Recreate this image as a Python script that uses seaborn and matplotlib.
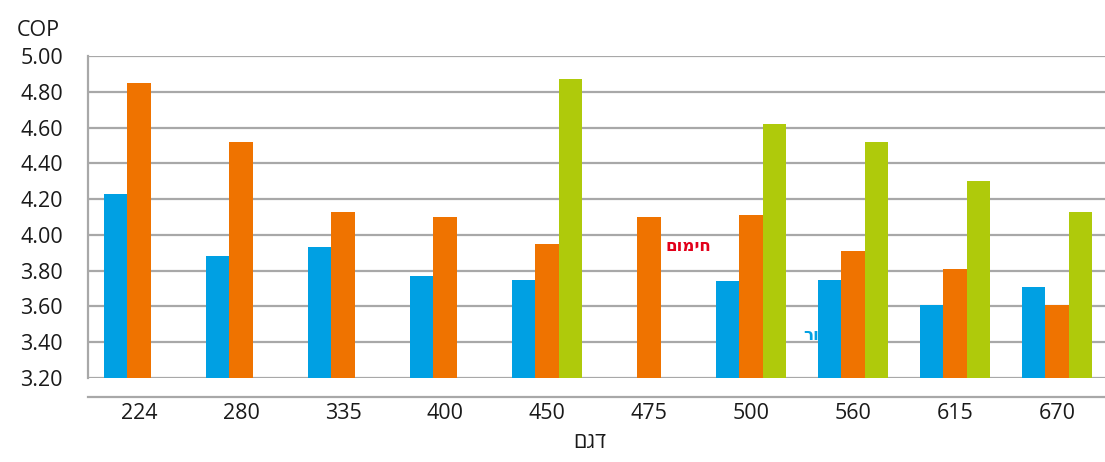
import numpy as np
import pandas as pd
import matplotlib
matplotlib.use("Agg")
import matplotlib.pyplot as plt
import seaborn as sns

# Models and COP values per series (NaN = not available)
models = ["224", "280", "335", "400", "450", "475", "500", "560", "615", "670"]
series_names = ["cooling", "heating", "other"]
cop_blue = [4.23, 3.88, 3.93, 3.77, 3.75, np.nan, 3.74, 3.75, 3.61, 3.71]
cop_orange = [4.85, 4.52, 4.13, 4.10, 3.95, 4.10, 4.11, 3.91, 3.81, 3.61]
cop_green = [np.nan, np.nan, np.nan, np.nan, 4.87, np.nan, 4.62, 4.52, 4.30, 4.13]
y_ticks = [3.20, 3.40, 3.60, 3.80, 4.00, 4.20, 4.40, 4.60, 4.80, 5.00]

# Hebrew labels, laid out left-to-right glyph by glyph
label_model = "דגם"
label_heating = "חימום"
label_cooling = "קירור"


def ltr(s):
    # the text engine reorders Hebrew right-to-left; pre-reverse to keep glyph order
    return s[::-1]


colors = ["#00a0e3", "#ef7300", "#afca0b"]

df = pd.DataFrame({
    "model": models * 3,
    "series": [series_names[0]] * 10 + [series_names[1]] * 10 + [series_names[2]] * 10,
    "cop": cop_blue + cop_orange + cop_green,
})

sns.set_theme(style="white")
plt.rcParams["font.family"] = ["Open Sans", "DejaVu Sans"]

W, H = 1105, 462
fig = plt.figure(figsize=(W / 100, H / 100), dpi=100)
left_px, right_px, top_px, bot_px = 88, 1108, 56, 378
ax = fig.add_axes([left_px / W, (H - bot_px) / H,
                   (right_px - left_px) / W, (bot_px - top_px) / H])

sns.barplot(data=df, x="model", y="cop", hue="series", order=models,
            hue_order=series_names, palette=colors, saturation=1,
            width=0.68, gap=0, edgecolor="none", linewidth=0,
            legend=False, ax=ax, zorder=2)

ax.set_xlim(-0.5, 9.5)
ax.set_ylim(3.2, 5.0)
ax.set_yticks(y_ticks)
ax.set_yticklabels([f"{v:.2f}" for v in y_ticks], fontsize=15.5, color="#1a1a1a")
ax.tick_params(axis="y", length=0, pad=18)

# horizontal gridlines
ax.set_axisbelow(True)
ax.yaxis.grid(True, color="#a8a8a8", linewidth=1.6)
ax.xaxis.grid(False)

for s in ["top", "right"]:
    ax.spines[s].set_visible(False)
ax.spines["left"].set_color("#a8a8a8")
ax.spines["left"].set_linewidth(1.6)

# category axis drawn a little below the plot area
ax.spines["bottom"].set_position(("outward", 14))
ax.spines["bottom"].set_color("#a8a8a8")
ax.spines["bottom"].set_linewidth(1.6)
ax.set_xticks(range(len(models)))
ax.set_xticklabels(models, fontsize=15.5, color="#1a1a1a")
ax.tick_params(axis="x", which="major", length=0, pad=4)
ax.set_xticks(np.arange(0.5, len(models), 1.0), minor=True)
ax.tick_params(axis="x", which="minor", length=26, width=1.1,
               color="#333333", direction="out")

ax.set_xlabel("")
ax.set_ylabel("")
fig.text(590 / W, (H - 443) / H, ltr(label_model), fontsize=15.5,
         color="#1a1a1a", ha="center", va="center")

fig.text(17 / W, (H - 30) / H, "COP", fontsize=15.5, color="#1a1a1a",
         ha="left", va="center")

ax.text(5.157, 3.94, ltr(label_heating), fontsize=12, fontweight="bold",
        color="#e2001a", ha="left", va="center", zorder=3)
ax.text(6.515, 3.44, ltr(label_cooling), fontsize=12, fontweight="bold",
        color="#00a0e3", ha="left", va="center", zorder=1)

fig.savefig("out.png", dpi=100)
